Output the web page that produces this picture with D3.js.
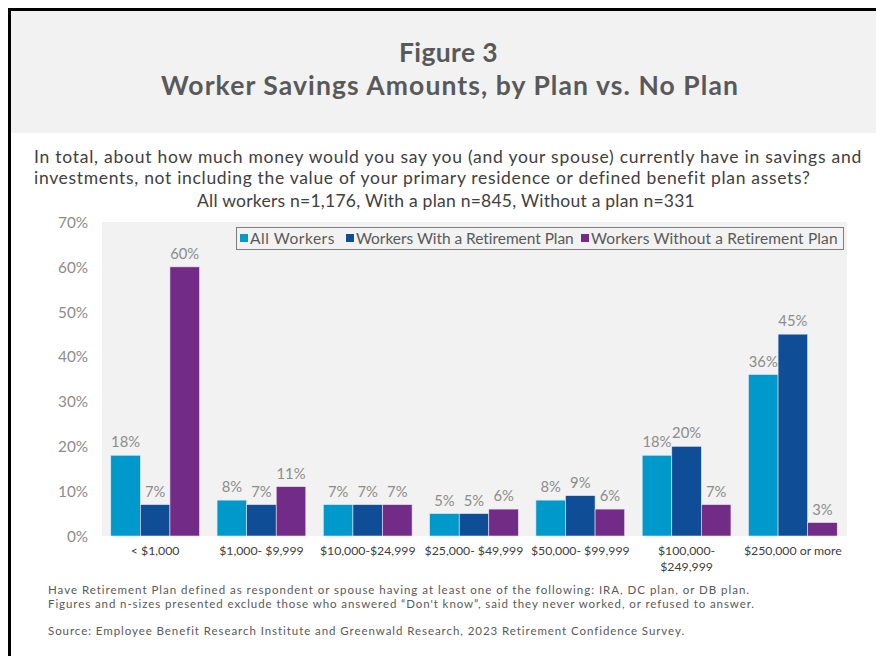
<!DOCTYPE html>
<html><head><meta charset="utf-8">
<script src="https://cdn.jsdelivr.net/npm/d3@7"></script>
<style>body{margin:0;background:#fff;} svg{display:block;}</style>
</head><body>
<script>
const categories = ["< $1,000", "$1,000- $9,999", "$10,000-$24,999", "$25,000- $49,999", "$50,000- $99,999", "$100,000-\n$249,999", "$250,000 or more"];
const seriesNames = ["All Workers", "Workers With a Retirement Plan", "Workers Without a Retirement Plan"];
const allWorkers = [18, 8, 7, 5, 8, 18, 36];
const withPlan = [7, 7, 7, 5, 9, 20, 45];
const withoutPlan = [60, 11, 7, 6, 6, 7, 3];
const yTicks = [0, 10, 20, 30, 40, 50, 60, 70];
const colors = ["#0099CC", "#0F4E96", "#722B87"];
const series = [allWorkers, withPlan, withoutPlan];

const W = 876, H = 656;
const FONT = "'Lato', 'Open Sans', sans-serif";
const svg = d3.select("body").append("svg").attr("width", W).attr("height", H);

function fitSize(str, target, weight) {
  const t = svg.append("text").attr("font-family", FONT).attr("font-weight", weight || "normal").attr("font-size", 20).text(str);
  const w = t.node().getComputedTextLength();
  t.remove();
  return 20 * target / w;
}
// widen a text element to a target width with letter-spacing
function spread(sel, target) {
  sel.attr("letter-spacing", 0);
  const w = sel.node().getComputedTextLength();
  const n = sel.text().length;
  sel.attr("letter-spacing", ((target - w) / n).toFixed(3));
  return sel;
}

// title box and frame
svg.append("rect").attr("x", 11).attr("y", 11).attr("width", W - 11).attr("height", 122).attr("fill", "#f2f2f2");
svg.append("path").attr("d", `M9.5,${H} V9.5 H${W}`).attr("fill", "none").attr("stroke", "#000").attr("stroke-width", 3);

const title = svg.append("g").attr("font-family", FONT).attr("font-weight", "bold").attr("fill", "#595959").attr("font-size", 26.5);
spread(title.append("text").attr("x", 399).attr("y", 62).text("Figure 3"), 99);
spread(title.append("text").attr("x", 161).attr("y", 95).text("Worker Savings Amounts, by Plan vs. No Plan"), 578);

const sub = svg.append("g").attr("font-family", FONT).attr("fill", "#404040").attr("font-size", 17.5);
spread(sub.append("text").attr("x", 34).attr("y", 163).text("In total, about how much money would you say you (and your spouse) currently have in savings and"), 828);
spread(sub.append("text").attr("x", 34).attr("y", 184).text("investments, not including the value of your primary residence or defined benefit plan assets?"), 776);
spread(sub.append("text").attr("x", 197).attr("y", 207).text("All workers n=1,176, With a plan n=845, Without a plan n=331"), 498);

// plot
const x0 = d3.scaleBand().domain(categories).range([102, 846]).paddingInner(0.165).paddingOuter(0.0825);
const x1 = d3.scaleBand().domain(d3.range(3)).range([0, x0.bandwidth()]);
const y = d3.scaleLinear().domain([0, 70]).range([536, 222]);

svg.append("rect").attr("x", 102).attr("y", y(70)).attr("width", 745).attr("height", y(0) - y(70)).attr("fill", "#f2f2f2");

const tickSize = fitSize("70%", 30);
const numSize = fitSize("70%", 29);
const yAxis = d3.axisLeft(y).tickValues(yTicks).tickFormat(d => d + "%").tickSize(0).tickPadding(0);
const yg = svg.append("g").attr("transform", "translate(88,0)").call(yAxis);
yg.select(".domain").remove();
yg.selectAll("text").attr("font-family", FONT).attr("font-size", tickSize).attr("fill", "#8c8c8c").attr("dy", "0.35em");

const groups = svg.append("g").selectAll("g").data(categories).join("g")
  .attr("transform", d => `translate(${x0(d)},0)`);
groups.selectAll("rect").data((d, i) => series.map((s, k) => ({k, v: s[i]}))).join("rect")
  .attr("x", d => x1(d.k)).attr("width", x1.bandwidth())
  .attr("y", d => y(d.v)).attr("height", d => y(0) - y(d.v))
  .attr("fill", d => colors[d.k]).attr("stroke", "#e8e8f0").attr("stroke-width", 0.6);
groups.selectAll("text").data((d, i) => series.map((s, k) => ({k, v: s[i]}))).join("text")
  .attr("x", d => x1(d.k) + x1.bandwidth() / 2).attr("y", d => y(d.v) - 8)
  .attr("text-anchor", "middle").attr("font-family", FONT).attr("font-size", numSize).attr("fill", "#8c8c8c")
  .text(d => d.v + "%");

// x labels
const xSize = fitSize("$250,000 or more", 98);
const xl = svg.append("g").attr("font-family", FONT).attr("font-size", xSize).attr("fill", "#404040").attr("text-anchor", "middle");
categories.forEach(c => {
  const lines = c.split("\n");
  const cx = x0(c) + x0.bandwidth() / 2;
  const t = xl.append("text").attr("x", cx).attr("y", 555);
  lines.forEach((l, i) => t.append("tspan").attr("x", cx).attr("dy", i ? 16 : 0).text(l));
});

// legend
const legPos = [{sq: 240, tx: 250, w: 85}, {sq: 346, tx: 356, w: 218}, {sq: 581, tx: 591, w: 247}];
const lg = svg.append("g").attr("font-family", FONT).attr("font-size", 15.5).attr("fill", "#595959");
lg.append("rect").attr("x", 236.5).attr("y", 227.5).attr("width", 607).attr("height", 22).attr("fill", "#f2f2f2").attr("stroke", "#7f7f7f");
seriesNames.forEach((n, i) => {
  lg.append("rect").attr("x", legPos[i].sq).attr("y", 234).attr("width", 8).attr("height", 8).attr("fill", colors[i]);
  spread(lg.append("text").attr("x", legPos[i].tx).attr("y", 244).text(n), legPos[i].w);
});

// footnotes
const fn = svg.append("g").attr("font-family", FONT).attr("font-size", 11.5).attr("fill", "#595959");
spread(fn.append("text").attr("x", 48).attr("y", 594).text("Have Retirement Plan defined as respondent or spouse having at least one of the following: IRA, DC plan, or DB plan."), 702);
spread(fn.append("text").attr("x", 48).attr("y", 608).text("Figures and n-sizes presented exclude those who answered \u201cDon't know\u201d, said they never worked, or refused to answer."), 707);
spread(fn.append("text").attr("x", 48).attr("y", 635).text("Source: Employee Benefit Research Institute and Greenwald Research, 2023 Retirement Confidence Survey."), 637);
</script>
</body></html>
